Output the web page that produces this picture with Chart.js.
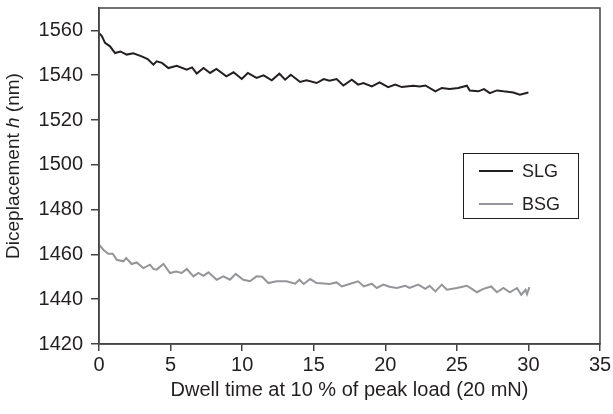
<!DOCTYPE html>
<html>
<head>
<meta charset="utf-8">
<script src="https://cdn.jsdelivr.net/npm/chart.js@4/dist/chart.umd.min.js"></script>
<style>
  html, body { margin: 0; padding: 0; background: #fff; }
  #wrap { width: 613px; height: 414px; }
</style>
</head>
<body>
<div id="wrap"><canvas id="dwell_chart"></canvas></div>
<script>
  // SLG curve (time in s, displacement in nm)
  const slgTime = [0, 0.2, 0.42, 0.77, 1.12, 1.5, 1.93, 2.4, 2.98, 3.4, 3.8, 4.03, 4.4, 4.85, 5.43, 6.13, 6.5, 6.83, 7.3, 7.76, 8.2, 8.9, 9.4, 9.97, 10.4, 11.0, 11.5, 12.07, 12.6, 13.0, 13.4, 14.05, 14.5, 15.2, 15.7, 16.1, 16.6, 17.07, 17.66, 18.1, 18.47, 19.06, 19.6, 20.2, 20.7, 21.15, 21.96, 22.4, 22.8, 23.5, 23.95, 24.5, 25.1, 25.7, 25.9, 26.5, 26.9, 27.3, 27.8, 28.25, 28.95, 29.4, 30.0];
  const slgDepth = [1558.8, 1557.5, 1554.4, 1552.9, 1549.9, 1550.6, 1549.2, 1549.8, 1548.4, 1547.2, 1544.7, 1546.2, 1545.5, 1543.2, 1544.2, 1542.5, 1543.5, 1540.7, 1543.2, 1541.0, 1542.8, 1539.5, 1541.3, 1538.3, 1541.0, 1538.8, 1539.9, 1537.7, 1540.7, 1538.0, 1540.2, 1537.0, 1537.7, 1536.5, 1538.3, 1537.5, 1538.3, 1535.4, 1538.0, 1535.8, 1536.5, 1535.0, 1536.8, 1534.7, 1535.8, 1534.7, 1535.3, 1535.0, 1535.4, 1532.8, 1534.3, 1533.8, 1534.3, 1535.3, 1533.2, 1532.8, 1533.8, 1532.0, 1533.2, 1532.8, 1532.3, 1531.3, 1532.3];

  // BSG curve
  const bsgTime = [0, 0.3, 0.65, 0.96, 1.24, 1.7, 1.9, 2.28, 2.63, 3.1, 3.56, 3.8, 4.03, 4.5, 4.96, 5.38, 5.78, 6.13, 6.6, 6.94, 7.3, 7.64, 8.22, 8.69, 9.15, 9.55, 10.08, 10.55, 11.0, 11.4, 11.83, 12.4, 13.1, 13.7, 14.0, 14.3, 14.75, 15.2, 15.7, 16.1, 16.6, 16.96, 17.5, 18.1, 18.5, 19.06, 19.4, 19.87, 20.3, 20.8, 21.4, 21.7, 22.3, 22.8, 23.1, 23.5, 23.95, 24.3, 25.0, 25.7, 26.05, 26.4, 26.85, 27.4, 27.8, 28.25, 28.7, 29.2, 29.5, 29.8, 29.9, 30.07];
  const bsgDepth = [1464.3, 1462.1, 1460.3, 1460.3, 1457.6, 1456.9, 1458.4, 1455.7, 1456.4, 1453.9, 1455.4, 1453.5, 1453.2, 1455.7, 1451.7, 1452.4, 1451.7, 1453.5, 1450.2, 1451.7, 1450.4, 1452.0, 1448.7, 1450.2, 1448.7, 1451.3, 1448.7, 1448.0, 1450.2, 1450.0, 1447.2, 1448.0, 1448.0, 1446.9, 1448.7, 1446.8, 1449.0, 1447.2, 1447.0, 1446.8, 1447.5, 1445.7, 1446.8, 1448.0, 1445.7, 1446.9, 1445.0, 1446.5, 1445.6, 1445.0, 1446.0, 1445.0, 1446.5, 1444.6, 1446.0, 1443.5, 1446.5, 1444.2, 1445.0, 1446.0, 1444.6, 1443.1, 1444.6, 1445.7, 1443.1, 1445.0, 1443.1, 1445.0, 1442.0, 1444.2, 1442.3, 1445.4];

  const seriesNames = ['SLG', 'BSG'];
  const xTicks = { min: 0, max: 35, step: 5 };
  const yTicks = { min: 1420, max: 1570, step: 20 };

  const ink = '#231f20';
  const grey = '#939598';
  const font = "'Liberation Sans', Arial, sans-serif";

  const toPoints = (xs, ys) => xs.map((x, i) => ({ x: x, y: ys[i] }));

  // frame round the plot area plus the boxed legend and the y title with italic h
  const framePlugin = {
    id: 'frame',
    afterDraw(chart) {
      const { ctx, chartArea } = chart;
      ctx.save();
      ctx.strokeStyle = '#444';
      ctx.lineWidth = 1.5;
      ctx.strokeRect(chartArea.left, chartArea.top, chartArea.right - chartArea.left, chartArea.bottom - chartArea.top);

      // legend box
      ctx.strokeStyle = ink;
      ctx.lineWidth = 1;
      ctx.strokeRect(463.5, 153.5, 115, 65);
      ctx.font = '18px ' + font;
      ctx.textBaseline = 'middle';
      chart.data.datasets.forEach((ds, i) => {
        const y = 171 + i * 33;
        ctx.strokeStyle = ds.borderColor;
        ctx.lineWidth = 1.8;
        ctx.beginPath();
        ctx.moveTo(479, y);
        ctx.lineTo(513, y);
        ctx.stroke();
        ctx.fillStyle = ink;
        ctx.fillText(ds.label, 522, y + 1);
      });

      // y axis title
      ctx.translate(14, 166);
      ctx.rotate(-Math.PI / 2);
      const parts = [['Diceplacement ', 'normal'], ['h', 'italic'], [' (nm)', 'normal']];
      let total = 0;
      parts.forEach(p => { ctx.font = p[1] + ' 19px ' + font; total += ctx.measureText(p[0]).width; });
      let x = -total / 2;
      ctx.fillStyle = ink;
      parts.forEach(p => {
        ctx.font = p[1] + ' 19px ' + font;
        ctx.fillText(p[0], x, 0);
        x += ctx.measureText(p[0]).width;
      });
      ctx.restore();
    }
  };

  new Chart(document.getElementById('dwell_chart'), {
    type: 'line',
    data: {
      datasets: [{
        label: seriesNames[0],
        data: toPoints(slgTime, slgDepth),
        borderColor: ink,
        borderWidth: 2,
        pointRadius: 0,
        tension: 0,
        fill: false
      }, {
        label: seriesNames[1],
        data: toPoints(bsgTime, bsgDepth),
        borderColor: grey,
        borderWidth: 2,
        pointRadius: 0,
        tension: 0,
        fill: false
      }]
    },
    options: {
      responsive: true,
      maintainAspectRatio: false,
      animation: false,
      layout: { autoPadding: false, padding: { top: 8, right: 13, left: 0, bottom: 12 } },
      plugins: {
        legend: { display: false },
        tooltip: { enabled: false }
      },
      scales: {
        x: {
          type: 'linear',
          min: xTicks.min,
          max: xTicks.max,
          afterFit: (scale) => { scale.height = 58; scale.paddingLeft = 0; scale.paddingRight = 0; },
          border: { display: true, color: '#444', width: 1.5 },
          grid: { display: true, drawOnChartArea: false, drawTicks: true, tickLength: 7, color: '#444', lineWidth: 1.5 },
          ticks: { stepSize: xTicks.step, color: ink, font: { family: font, size: 20 }, padding: 2, maxRotation: 0, callback: (v) => String(v) },
          title: { display: true, text: 'Dwell time at 10 % of peak load (20 mN)', color: ink, font: { family: font, size: 20 }, padding: { top: 2, bottom: 0 } }
        },
        y: {
          min: yTicks.min,
          max: yTicks.max,
          afterFit: (scale) => { scale.width = 99; scale.paddingTop = 0; scale.paddingBottom = 0; },
          border: { display: true, color: '#444', width: 1.5 },
          grid: { display: true, drawOnChartArea: false, drawTicks: true, tickLength: 8, color: '#444', lineWidth: 1.5 },
          ticks: { stepSize: yTicks.step, includeBounds: false, color: ink, font: { family: font, size: 20 }, padding: 8, callback: (v) => String(v) }
        }
      }
    },
    plugins: [framePlugin]
  });
</script>
</body>
</html>
